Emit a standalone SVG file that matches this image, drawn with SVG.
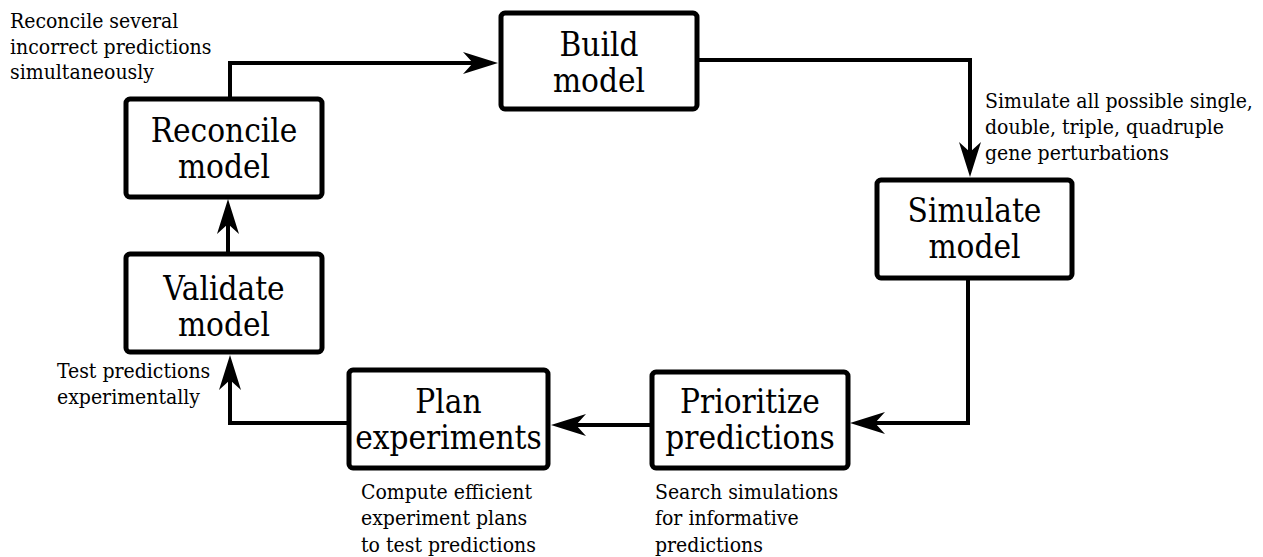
<svg xmlns="http://www.w3.org/2000/svg" width="1263" height="557" viewBox="0 0 1263 557">
  <style>
    .box { fill: #ffffff; stroke: #000000; stroke-width: 5; }
    .lbl { font-family: 'DejaVu Serif Condensed', 'DejaVu Serif', serif; font-stretch: condensed; font-size: 33px; fill: #000; text-anchor: middle; }
    .note { font-family: 'DejaVu Serif Condensed', 'DejaVu Serif', serif; font-stretch: condensed; font-size: 21px; fill: #000; }
    .link { fill: none; stroke: #000000; stroke-width: 4; stroke-linejoin: miter; }
  </style>
  <defs>
    <marker id="arrow" markerUnits="userSpaceOnUse" markerWidth="40" markerHeight="26" refX="10" refY="0" viewBox="0 -13 40 26" orient="auto">
      <path d="M0,-11 L35,0 L0,11 L10,0 Z" fill="#000"/>
    </marker>
  </defs>
  <rect width="1263" height="557" fill="#ffffff"/>

  <!-- connectors -->
  <g id="connectors">
    <path class="link" d="M230,99 V63 H473" marker-end="url(#arrow)"/>
    <path class="link" d="M697,60 H970 V152" marker-end="url(#arrow)"/>
    <path class="link" d="M968,278 V423 H875" marker-end="url(#arrow)"/>
    <path class="link" d="M652,425 H576" marker-end="url(#arrow)"/>
    <path class="link" d="M349,423 H230 V380" marker-end="url(#arrow)"/>
    <path class="link" d="M228,254 V224" marker-end="url(#arrow)"/>
  </g>

  <!-- nodes -->
  <g id="build">
    <rect class="box" x="501" y="13" width="196" height="96" rx="4"/>
    <text class="lbl" x="599" y="56">Build</text>
    <text class="lbl" x="599" y="92">model</text>
  </g>
  <g id="simulate">
    <rect class="box" x="877" y="180" width="195" height="98" rx="4"/>
    <text class="lbl" x="974.5" y="222">Simulate</text>
    <text class="lbl" x="974.5" y="258">model</text>
  </g>
  <g id="prioritize">
    <rect class="box" x="652" y="372" width="196" height="96" rx="4"/>
    <text class="lbl" x="750" y="413">Prioritize</text>
    <text class="lbl" x="750" y="449">predictions</text>
  </g>
  <g id="plan">
    <rect class="box" x="349" y="370" width="199" height="98" rx="4"/>
    <text class="lbl" x="448.5" y="413">Plan</text>
    <text class="lbl" x="448.5" y="449">experiments</text>
  </g>
  <g id="validate">
    <rect class="box" x="126" y="254" width="196" height="98" rx="4"/>
    <text class="lbl" x="224" y="300">Validate</text>
    <text class="lbl" x="224" y="336">model</text>
  </g>
  <g id="reconcile">
    <rect class="box" x="126" y="99" width="196" height="98" rx="4"/>
    <text class="lbl" x="224" y="142">Reconcile</text>
    <text class="lbl" x="224" y="178">model</text>
  </g>

  <!-- annotations -->
  <g id="notes">
    <text class="note" x="10" y="28">Reconcile several</text>
    <text class="note" x="10" y="54">incorrect predictions</text>
    <text class="note" x="10" y="79">simultaneously</text>

    <text class="note" x="985" y="108">Simulate all possible single,</text>
    <text class="note" x="985" y="134">double, triple, quadruple</text>
    <text class="note" x="985" y="160">gene perturbations</text>

    <text class="note" x="57" y="378">Test predictions</text>
    <text class="note" x="57" y="404">experimentally</text>

    <text class="note" x="361" y="499">Compute efficient</text>
    <text class="note" x="361" y="525">experiment plans</text>
    <text class="note" x="361" y="552">to test predictions</text>

    <text class="note" x="655" y="499">Search simulations</text>
    <text class="note" x="655" y="525">for informative</text>
    <text class="note" x="655" y="552">predictions</text>
  </g>
</svg>
